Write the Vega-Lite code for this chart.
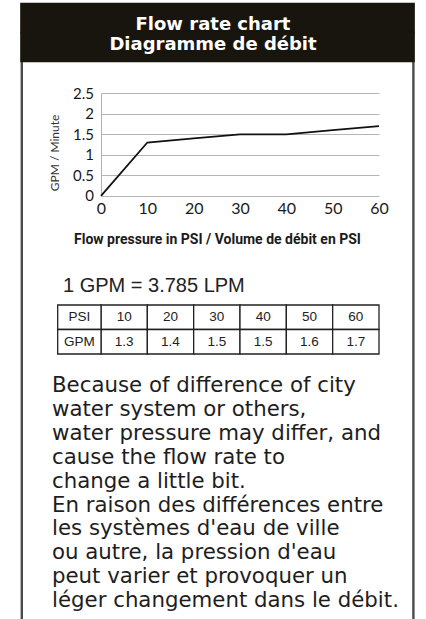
{
  "$schema": "https://vega.github.io/schema/vega-lite/v6.json",
  "width": 393,
  "height": 616,
  "padding": {"left": 21, "top": 3, "right": 12, "bottom": 0},
  "autosize": {"type": "none"},
  "background": "white",
  "config": {"view": {"stroke": null}},
  "datasets": {
    "flow": [
      {"psi": 0, "gpm": 0},
      {"psi": 10, "gpm": 1.3},
      {"psi": 20, "gpm": 1.4},
      {"psi": 30, "gpm": 1.5},
      {"psi": 40, "gpm": 1.5},
      {"psi": 50, "gpm": 1.6},
      {"psi": 60, "gpm": 1.7}
    ],
    "heading": [
      {"order": 1, "line": "Flow rate chart"},
      {"order": 2, "line": "Diagramme de débit"}
    ],
    "rowlabels": [
      {"row": "psi", "label": "PSI"},
      {"row": "gpm", "label": "GPM"}
    ],
    "note": [
      {"n": 1, "line": "Because of difference of city"},
      {"n": 2, "line": "water system or others,"},
      {"n": 3, "line": "water pressure may differ, and"},
      {"n": 4, "line": "cause the flow rate to"},
      {"n": 5, "line": "change a little bit."},
      {"n": 6, "line": "En raison des différences entre"},
      {"n": 7, "line": "les systèmes d'eau de ville"},
      {"n": 8, "line": "ou autre, la pression d'eau"},
      {"n": 9, "line": "peut varier et provoquer un"},
      {"n": 10, "line": "léger changement dans le débit."}
    ]
  },
  "resolve": {"scale": {"x": "independent", "y": "independent"}, "axis": {"x": "independent", "y": "independent"}},
  "layer": [
    {
      "data": {"values": [{"side": "left"}, {"side": "right"}]},
      "mark": {"type": "rule", "color": "#4a4a4a", "strokeWidth": 2.4},
      "encoding": {
        "x": {"field": "side", "type": "nominal", "scale": {"type": "point", "domain": ["left", "right"], "range": [0.8, 392.4], "padding": 0}, "axis": null}
      }
    },
    {
      "data": {"name": "heading"},
      "mark": {"type": "rect", "fill": "#18150f", "stroke": "#18150f", "strokeWidth": 1.5},
      "encoding": {
        "y": {"field": "order", "type": "ordinal", "scale": {"type": "band", "range": [0.5, 58.5], "paddingInner": 0, "paddingOuter": 0}, "axis": null}
      }
    },
    {
      "data": {"name": "heading"},
      "mark": {"type": "text", "font": "DejaVu Sans", "fontWeight": "bold", "fontSize": 18, "color": "white", "baseline": "alphabetic", "align": "center", "dx": -4.5},
      "encoding": {
        "y": {"field": "order", "type": "ordinal", "scale": {"type": "point", "range": [27, 47], "padding": 0}, "axis": null},
        "text": {"field": "line", "type": "nominal"}
      }
    },
    {
      "data": {"name": "flow"},
      "mark": {"type": "line", "color": "#111111", "strokeWidth": 1.8},
      "encoding": {
        "x": {
          "field": "psi", "type": "quantitative",
          "scale": {"domain": [0, 60], "range": [80, 358], "nice": false, "zero": false},
          "axis": {
            "orient": "bottom", "offset": -423.2, "values": [0, 10, 20, 30, 40, 50, 60],
            "domain": false, "ticks": false, "tickSize": 0, "grid": false, "labelFlush": false,
            "labelFont": "Lato, Open Sans, sans-serif", "labelFontSize": 16, "labelColor": "#1a1a1a", "labelPadding": 5,
            "title": "Flow pressure in PSI / Volume de débit en PSI",
            "titleFont": "Roboto, Liberation Sans, sans-serif", "titleFontWeight": "bold", "titleFontSize": 14, "titleColor": "#1a1a1a",
            "titleX": 196, "titleY": 44, "titleBaseline": "middle", "titleAlign": "center"
          }
        },
        "y": {
          "field": "gpm", "type": "quantitative",
          "scale": {"domain": [0, 2.5], "range": [192.8, 90.3], "nice": false, "zero": false},
          "axis": {
            "orient": "left", "offset": -80, "values": [0, 0.5, 1, 1.5, 2, 2.5], "format": "~g",
            "domain": true, "domainColor": "#b0b0b0", "domainWidth": 1,
            "ticks": false, "tickSize": 0, "grid": true, "gridColor": "#b5b5b5", "gridWidth": 1, "labelFlush": false,
            "labelFont": "Lato, Open Sans, sans-serif", "labelFontSize": 15, "labelColor": "#1a1a1a", "labelPadding": 7.5, "labelBaseline": "middle",
            "title": "GPM / Minute", "titleFont": "Lato, Open Sans, sans-serif", "titleFontWeight": "normal", "titleFontSize": 12, "titleColor": "#333333",
            "titleX": -47, "titleY": 149.5, "titleBaseline": "middle", "titleAlign": "center", "titleAngle": 270
          }
        }
      }
    },
    {
      "data": {"values": [{"text": "1 GPM = 3.785 LPM"}]},
      "mark": {"type": "text", "font": "Liberation Sans", "fontSize": 20, "color": "#222222", "align": "left", "baseline": "alphabetic", "dx": -154.5},
      "encoding": {
        "y": {"field": "text", "type": "nominal", "scale": {"type": "point", "range": [280, 298], "padding": 0.5}, "axis": null},
        "text": {"field": "text", "type": "nominal"}
      }
    },
    {
      "data": {"name": "flow"},
      "transform": [{"filter": "datum.psi > 0"}, {"fold": ["psi", "gpm"], "as": ["row", "val"]}],
      "mark": {"type": "rect", "fill": "white", "stroke": "#222222", "strokeWidth": 1.3},
      "encoding": {
        "x": {"field": "psi", "type": "ordinal", "scale": {"type": "band", "range": [80, 358], "paddingInner": 0, "paddingOuter": 0}, "axis": null},
        "y": {"field": "row", "type": "nominal", "sort": ["psi", "gpm"], "scale": {"type": "band", "range": [302, 351], "paddingInner": 0, "paddingOuter": 0}, "axis": null}
      }
    },
    {
      "data": {"name": "flow"},
      "transform": [{"filter": "datum.psi > 0"}, {"fold": ["psi", "gpm"], "as": ["row", "val"]}],
      "mark": {"type": "text", "font": "Liberation Sans", "fontSize": 13.5, "color": "#222222", "baseline": "middle", "align": "center"},
      "encoding": {
        "x": {"field": "psi", "type": "ordinal", "scale": {"type": "band", "range": [80, 358], "paddingInner": 0, "paddingOuter": 0}, "axis": null},
        "y": {"field": "row", "type": "nominal", "sort": ["psi", "gpm"], "scale": {"type": "band", "range": [302, 351], "paddingInner": 0, "paddingOuter": 0}, "axis": null},
        "text": {"field": "val", "type": "nominal"}
      }
    },
    {
      "data": {"name": "rowlabels"},
      "mark": {"type": "rect", "fill": "white", "stroke": "#222222", "strokeWidth": 1.3},
      "encoding": {
        "x": {"datum": "head", "type": "nominal", "scale": {"type": "band", "domain": ["head"], "range": [36.7, 80], "paddingInner": 0, "paddingOuter": 0}, "axis": null},
        "y": {"field": "row", "type": "nominal", "sort": ["psi", "gpm"], "scale": {"type": "band", "range": [302, 351], "paddingInner": 0, "paddingOuter": 0}, "axis": null}
      }
    },
    {
      "data": {"name": "rowlabels"},
      "mark": {"type": "text", "font": "Liberation Sans", "fontSize": 13.5, "color": "#222222", "baseline": "middle", "align": "center"},
      "encoding": {
        "x": {"datum": "head", "type": "nominal", "scale": {"type": "band", "domain": ["head"], "range": [36.7, 80], "paddingInner": 0, "paddingOuter": 0}, "axis": null},
        "y": {"field": "row", "type": "nominal", "sort": ["psi", "gpm"], "scale": {"type": "band", "range": [302, 351], "paddingInner": 0, "paddingOuter": 0}, "axis": null},
        "text": {"field": "label", "type": "nominal"}
      }
    },
    {
      "data": {"name": "note"},
      "mark": {"type": "text", "font": "DejaVu Sans", "fontSize": 21.3, "color": "#1e1e1e", "align": "left", "baseline": "alphabetic", "dx": -165.5},
      "encoding": {
        "y": {"field": "n", "type": "ordinal", "scale": {"type": "point", "range": [389, 604.1], "padding": 0}, "axis": null},
        "text": {"field": "line", "type": "nominal"}
      }
    }
  ]
}
